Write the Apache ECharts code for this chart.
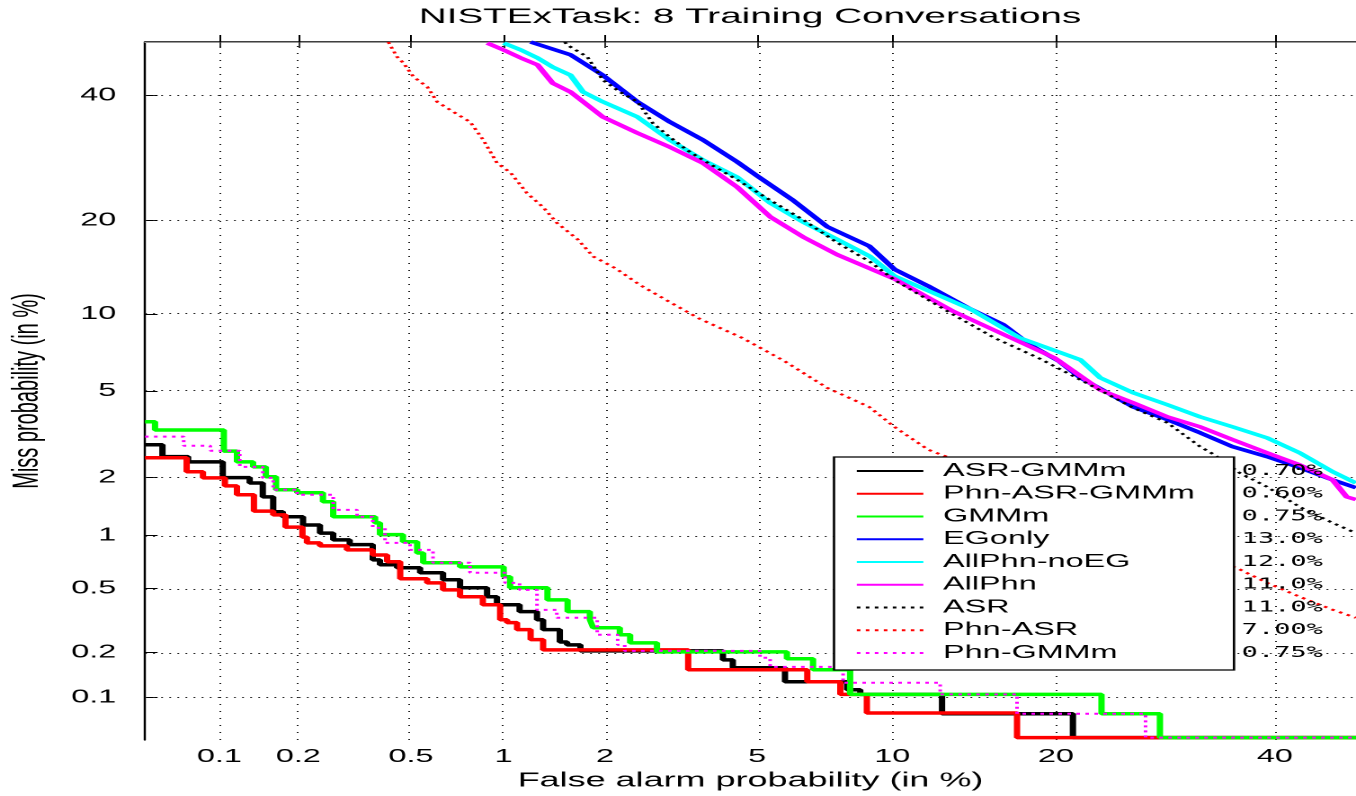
<!DOCTYPE html>
<html lang="en" style="height: 100%">
<head>
    <meta charset="utf-8"/>
    <title>NISTExTask: 8 Training Conversations</title>
</head>
<body style="height: 100%; margin: 0; overflow: hidden; background: #fff">
<!-- the original figure is stretched horizontally, so the chart is drawn narrow and scaled in x -->
<div id="container" style="width: 754px; height: 796px; transform: scaleX(1.79841); transform-origin: 0 0"></div>

<script type="text/javascript" src="https://cdn.jsdelivr.net/npm/echarts@6/dist/echarts.min.js"></script>

<script type="text/javascript">
    var SX = 1356 / 754;
    var FONT = '"Liberation Sans", Arial, Helvetica, sans-serif';
    var MONO = '"DejaVu Sans Mono", monospace';

    // ticks, in %
    var tickValues = [0.1, 0.2, 0.5, 1, 2, 5, 10, 20, 40];
    var tickLabels = ["0.1", "0.2", "0.5", "1", "2", "5", "10", "20", "40"];

    var seriesNames = ["ASR-GMMm", "Phn-ASR-GMMm", "GMMm", "EGonly", "AllPhn-noEG", "AllPhn", "ASR", "Phn-ASR", "Phn-GMMm"];
    var eerLabels = ["0.70%", "0.60%", "0.75%", "13.0%", "12.0%", "11.0%", "11.0%", "7.00%", "0.75%"];

    // [false alarm %, miss %]
    var asrGmmm = [[0.05, 2.88], [0.059, 2.53], [0.075, 2.39], [0.103, 2.0], [0.131, 1.88], [0.147, 1.60], [0.161, 1.34],
        [0.175, 1.26], [0.208, 1.14], [0.24, 1.03], [0.268, 0.946], [0.307, 0.89], [0.37, 0.732], [0.392, 0.686],
        [0.449, 0.66], [0.537, 0.617], [0.64, 0.562], [0.727, 0.504], [0.887, 0.446], [0.953, 0.399], [1.12, 0.362],
        [1.265, 0.323], [1.32, 0.28], [1.48, 0.234], [1.555, 0.224], [1.70, 0.205], [4.12, 0.179], [4.36, 0.159],
        [5.82, 0.128], [8.03, 0.113], [8.57, 0.105], [12.55, 0.077], [21.3, 0.052], [50, 0.052]];
    var phnAsrGmmm = [[0.05, 2.50], [0.074, 2.14], [0.086, 1.995], [0.105, 1.82], [0.117, 1.64], [0.136, 1.35],
        [0.161, 1.29], [0.179, 1.11], [0.207, 0.98], [0.215, 0.91], [0.24, 0.877], [0.30, 0.833], [0.37, 0.78],
        [0.415, 0.714], [0.46, 0.57], [0.567, 0.539], [0.64, 0.49], [0.727, 0.446], [0.86, 0.399], [0.975, 0.323],
        [1.025, 0.31], [1.10, 0.28], [1.21, 0.242], [1.32, 0.208], [3.36, 0.154], [6.55, 0.128], [7.76, 0.105],
        [8.85, 0.078], [17.2, 0.052], [50, 0.052]];
    var gmmm = [[0.05, 3.67], [0.055, 3.37], [0.104, 2.69], [0.117, 2.39], [0.135, 2.26], [0.151, 2.02], [0.165, 1.74],
        [0.198, 1.68], [0.246, 1.51], [0.268, 1.26], [0.377, 1.17], [0.392, 1.01], [0.47, 0.924], [0.525, 0.80],
        [0.55, 0.705], [0.727, 0.667], [1.0, 0.585], [1.047, 0.504], [1.36, 0.427], [1.56, 0.362], [1.81, 0.323],
        [1.85, 0.288], [2.2, 0.26], [2.35, 0.231], [2.78, 0.202], [5.88, 0.182], [6.75, 0.154], [8.15, 0.105],
        [23.6, 0.077], [28.7, 0.052], [50, 0.052]];
    var egOnly = [[1.21, 50], [1.59, 47.6], [1.97, 43.8], [2.46, 38.9], [3.01, 35.3], [3.67, 32.2], [4.47, 28.6],
        [5.05, 26.2], [6.07, 22.8], [7.26, 19.2], [8.95, 16.8], [10.1, 14.2], [11.8, 12.5], [14.2, 10.4], [16.3, 9.12],
        [18.1, 7.67], [20.2, 6.64], [21.9, 5.67], [26.3, 4.27], [29.4, 3.75], [32.5, 3.27], [35.7, 2.82], [39.2, 2.53],
        [42.6, 2.24], [46.1, 1.95], [48.6, 1.78]];
    var allPhnNoEg = [[1.0, 49.8], [1.13, 48.5], [1.27, 47.0], [1.41, 45.3], [1.59, 43.8], [1.73, 40.7], [1.97, 38.9],
        [2.46, 36.2], [3.01, 32.2], [3.67, 28.9], [4.47, 26.2], [5.37, 22.4], [6.41, 19.8], [7.64, 17.6], [8.99, 15.6],
        [10.1, 13.5], [14.2, 10.4], [17.4, 8.15], [21.9, 6.70], [23.5, 5.67], [26.3, 4.91], [29.4, 4.36], [32.5, 3.86],
        [35.7, 3.48], [39.2, 3.10], [42.6, 2.64], [46.1, 2.14], [48.6, 1.88]];
    var allPhn = [[0.888, 49.8], [1.0, 48.5], [1.13, 47.0], [1.27, 45.7], [1.41, 42.3], [1.59, 40.7], [1.97, 36.2],
        [2.46, 33.4], [3.01, 31.0], [3.67, 28.4], [4.47, 24.7], [5.37, 20.5], [6.41, 17.9], [7.64, 15.8], [10.1, 13.2],
        [13.2, 10.2], [19.9, 6.82], [23.5, 5.05], [26.3, 4.45], [29.4, 3.86], [32.5, 3.48], [35.7, 3.04], [39.2, 2.64],
        [42.6, 2.31], [46.1, 1.95], [47.6, 1.60], [48.6, 1.55]];
    var asr = [[1.53, 50], [1.56, 49.4], [1.78, 47.2], [1.97, 42.9], [2.2, 40.7], [2.46, 38.9], [2.71, 35.1], [3.01, 32.7],
        [3.34, 30.5], [3.67, 28.9], [4.47, 25.8], [5.37, 22.8], [6.41, 20.1], [7.64, 17.2], [8.99, 15.0], [10.1, 13.1],
        [13.2, 9.92], [15.7, 8.15], [18.7, 6.82], [21.9, 5.56], [26.3, 4.23], [29.4, 3.63], [32.5, 2.82], [33.9, 2.58],
        [36.4, 2.11], [39.2, 1.80], [42.6, 1.42], [46.1, 1.17], [48.6, 1.03]];
    var phnAsr = [[0.419, 50], [0.449, 47.2], [0.471, 46.1], [0.51, 43.5], [0.568, 41.6], [0.612, 38.9], [0.691, 37.1],
        [0.784, 35.3], [0.863, 32.2], [0.954, 28.4], [1.05, 26.9], [1.18, 23.8], [1.32, 21.8], [1.45, 19.7], [1.67, 17.6],
        [1.85, 15.6], [2.14, 14.3], [2.50, 12.6], [3.01, 11.0], [3.60, 9.59], [4.60, 8.15], [5.79, 6.64], [7.26, 5.15],
        [8.95, 4.27], [10.1, 3.48], [11.8, 2.73], [36.3, 0.65], [39.2, 0.539], [42.6, 0.446], [46.1, 0.372], [48.6, 0.332]];
    var phnGmmm = [[0.05, 3.14], [0.072, 2.85], [0.092, 2.70], [0.12, 2.26], [0.147, 1.995], [0.161, 1.74], [0.198, 1.64],
        [0.268, 1.37], [0.326, 1.26], [0.37, 1.10], [0.408, 0.91], [0.497, 0.833], [0.593, 0.705], [0.783, 0.617],
        [1.01, 0.539], [1.12, 0.49], [1.265, 0.371], [1.45, 0.332], [1.90, 0.26], [2.17, 0.224], [2.27, 0.205],
        [5.08, 0.185], [5.37, 0.161], [7.87, 0.126], [12.45, 0.105], [17.2, 0.077], [27.4, 0.052], [50, 0.052]];

    // inverse normal cdf (Acklam)
    function probit(p) {
        var a = [-3.969683028665376e+01, 2.209460984245205e+02, -2.759285104469687e+02, 1.383577518672690e+02, -3.066479806614716e+01, 2.506628277459239e+00];
        var b = [-5.447609879822406e+01, 1.615858368580409e+02, -1.556989798598866e+02, 6.680131188771972e+01, -1.328068155288572e+01];
        var c = [-7.784894002430293e-03, -3.223964580411365e-01, -2.400758277161838e+00, -2.549732539343734e+00, 4.374664141464968e+00, 2.938163982698783e+00];
        var d = [7.784695709041462e-03, 3.224671290700398e-01, 2.445134137142996e+00, 3.754408661907416e+00];
        var q, r;
        if (p < 0.02425) {
            q = Math.sqrt(-2 * Math.log(p));
            return (((((c[0] * q + c[1]) * q + c[2]) * q + c[3]) * q + c[4]) * q + c[5]) / ((((d[0] * q + d[1]) * q + d[2]) * q + d[3]) * q + 1);
        }
        if (p > 1 - 0.02425) {
            q = Math.sqrt(-2 * Math.log(1 - p));
            return -(((((c[0] * q + c[1]) * q + c[2]) * q + c[3]) * q + c[4]) * q + c[5]) / ((((d[0] * q + d[1]) * q + d[2]) * q + d[3]) * q + 1);
        }
        q = p - 0.5;
        r = q * q;
        return (((((a[0] * r + a[1]) * r + a[2]) * r + a[3]) * r + a[4]) * r + a[5]) * q / (((((b[0] * r + b[1]) * r + b[2]) * r + b[3]) * r + b[4]) * r + 1);
    }
    function dev(pct) { return probit(pct / 100); }
    function toDet(pts) { return pts.map(function (p) { return [dev(p[0]), dev(p[1])]; }); }

    var tickDev = tickValues.map(dev);
    function tickText(v) {
        for (var i = 0; i < tickDev.length; i++) {
            if (Math.abs(tickDev[i] - v) < 1e-6) return tickLabels[i];
        }
        return "";
    }

    var axisMin = dev(0.05);
    var xMax = -0.035;

    function curve(name, pts, color, dotted, step) {
        return {
            name: name,
            type: "line",
            data: toDet(pts),
            step: step ? "end" : false,
            symbol: "none",
            z: 2,
            emphasis: {disabled: true},
            lineStyle: dotted
                ? {color: color, width: 2, type: [2, 3]}
                : {color: color, width: 3.5, type: "solid"},
            itemStyle: {color: color}
        };
    }

    var gridLines = tickDev.map(function (v) {
        return {xAxis: v, lineStyle: {type: [1, 6], color: "#222", width: 1}};
    }).concat(tickDev.map(function (v) {
        return {yAxis: v, lineStyle: {type: [1, 3.5], color: "#222", width: 1}};
    }));

    var dom = document.getElementById("container");
    var myChart = echarts.init(dom, null, {renderer: "canvas", devicePixelRatio: 2});

    var option = {
        animation: false,
        backgroundColor: "#fff",
        title: {
            text: "NISTExTask: 8 Training Conversations",
            left: 750 / SX,
            textAlign: "center",
            top: 6,
            padding: 0,
            textStyle: {fontSize: 21.5, fontWeight: "normal", color: "#000", fontFamily: FONT}
        },
        grid: {left: 145 / SX, right: 0, top: 42, bottom: 56, containLabel: false, outerBoundsMode: "none"},
        legend: {
            data: seriesNames,
            orient: "vertical",
            left: 855 / SX,
            top: 462,
            padding: 0,
            itemWidth: 37,
            itemHeight: 14,
            itemGap: 4.75,
            selectedMode: false,
            z: 6,
            itemStyle: {opacity: 0},
            formatter: function (name) {
                return "{s| }{n|" + name + "}{p|" + eerLabels[seriesNames.indexOf(name)] + "}";
            },
            textStyle: {
                color: "#000",
                rich: {
                    s: {width: 6, fontSize: 18, lineHeight: 18},
                    n: {width: 166, fontSize: 18, fontFamily: FONT, lineHeight: 18, color: "#000"},
                    p: {fontSize: 15, fontFamily: MONO, lineHeight: 18, color: "#000"}
                }
            }
        },
        graphic: [{
            type: "rect",
            z: 5,
            silent: true,
            shape: {x: 834 / SX, y: 457, width: 400 / SX, height: 213},
            style: {fill: "#fff", stroke: "#000", lineWidth: 1.3}
        }],
        xAxis: [{
            type: "value",
            position: "bottom",
            min: axisMin,
            max: xMax,
            name: "False alarm probability (in %)",
            nameLocation: "middle",
            nameGap: 29,
            nameTextStyle: {fontSize: 20, color: "#000", fontFamily: FONT},
            axisLine: {show: true, lineStyle: {color: "#000", width: 1.5}},
            axisTick: {show: true, inside: true, length: 7, customValues: tickDev, lineStyle: {color: "#000", width: 1}},
            axisLabel: {customValues: tickDev, formatter: tickText, fontSize: 18, color: "#000", margin: 8, fontFamily: FONT},
            splitLine: {show: false}
        }, {
            type: "value",
            position: "top",
            min: axisMin,
            max: xMax,
            axisLine: {show: true, lineStyle: {color: "#999", width: 1}},
            axisTick: {show: true, inside: true, length: 6, customValues: tickDev, lineStyle: {color: "#333", width: 1}},
            axisLabel: {show: false},
            splitLine: {show: false}
        }],
        yAxis: {
            type: "value",
            min: axisMin,
            max: 0,
            name: "Miss probability (in %)",
            nameLocation: "middle",
            nameGap: 55,
            nameTextStyle: {fontSize: 20, color: "#000", fontFamily: FONT},
            axisLine: {show: true, lineStyle: {color: "#000", width: 1.2}},
            axisTick: {show: true, inside: true, length: 7, customValues: tickDev, lineStyle: {color: "#000", width: 1}},
            axisLabel: {customValues: tickDev, formatter: tickText, fontSize: 18, color: "#000", margin: 16, fontFamily: FONT},
            splitLine: {show: false}
        },
        series: [
            {
                name: "grid",
                type: "line",
                data: [],
                z: 1,
                silent: true,
                markLine: {silent: true, z: 1, symbol: ["none", "none"], label: {show: false}, animation: false, data: gridLines}
            },
            curve(seriesNames[0], asrGmmm, "#000000", false, true),
            curve(seriesNames[1], phnAsrGmmm, "#ff0000", false, true),
            curve(seriesNames[2], gmmm, "#00ff00", false, true),
            curve(seriesNames[3], egOnly, "#0000ff", false, false),
            curve(seriesNames[4], allPhnNoEg, "#00ffff", false, false),
            curve(seriesNames[5], allPhn, "#ff00ff", false, false),
            curve(seriesNames[6], asr, "#000000", true, false),
            curve(seriesNames[7], phnAsr, "#ff0000", true, false),
            curve(seriesNames[8], phnGmmm, "#ff00ff", true, true)
        ]
    };

    myChart.setOption(option);
</script>
</body>
</html>
